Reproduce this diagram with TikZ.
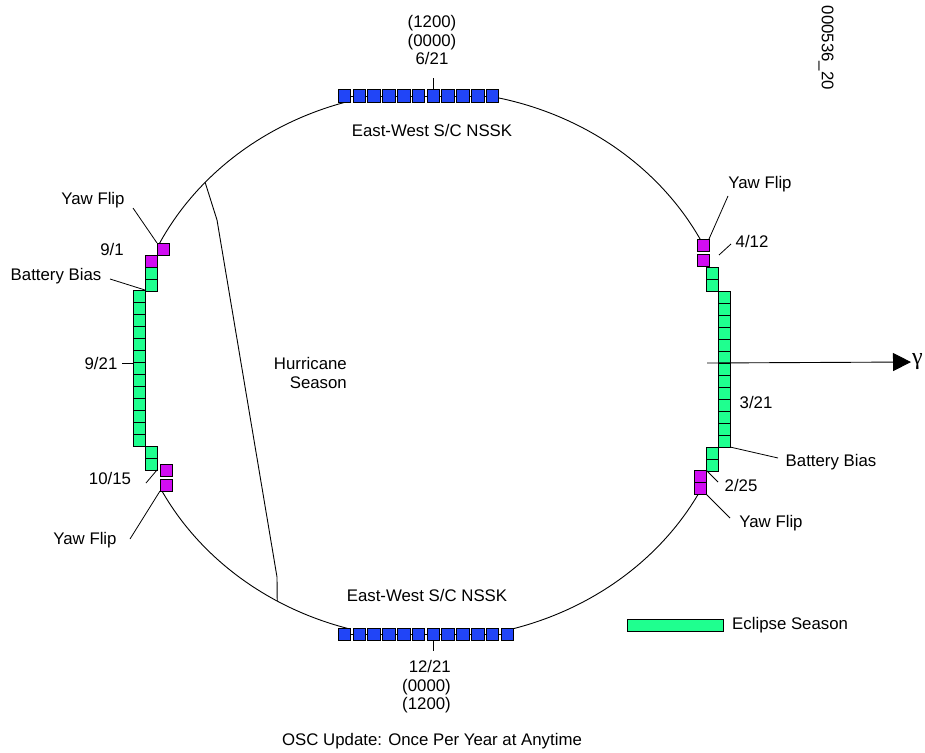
\documentclass[tikz,border=0pt]{standalone}
\usepackage{fontspec}
\setmainfont{Liberation Sans}
\newfontfamily\greekfont{Liberation Serif}
\usetikzlibrary{arrows.meta,calc}
\definecolor{orbitblue}{rgb}{0.13,0.27,0.97}
\definecolor{eclipsegreen}{rgb}{0.12,1.0,0.56}
\definecolor{yawmagenta}{rgb}{0.82,0.05,0.95}
\tikzset{
  sq/.style={
    draw=black,
    line width=0.8pt,
    inner sep=0pt,
    outer sep=0pt,
    minimum size=12pt
  },
  nssk/.style={sq, fill=orbitblue, minimum size=12.6pt},
  eclipse/.style={sq, fill=eclipsegreen},
  yaw/.style={sq, fill=yawmagenta},
  lbl/.style={inner sep=1pt, font=\fontsize{16.8}{18.5}\selectfont},
  orbit/.style={line width=0.9pt},
  leader/.style={line width=0.8pt}
}

\begin{document}
\begin{tikzpicture}[x=1pt, y=-1pt]
\useasboundingbox (0,0) rectangle (925,752);
% orbit arcs
\draw[orbit] plot[domain=106:154, samples=60] ({431+303*cos(\x)},{365-274*sin(\x)});
\draw[orbit] plot[domain=27:78, samples=60] ({431+303*cos(\x)},{365-274*sin(\x)});
\draw[orbit] plot[domain=207:254, samples=60] ({431+303*cos(\x)},{365-274*sin(\x)});
\draw[orbit] plot[domain=285:332, samples=60] ({431+303*cos(\x)},{365-274*sin(\x)});
% hurricane season boundary
\coordinate (hurA) at ({431+303*cos(138.2)},{365-274*sin(138.2)});
\coordinate (hurB) at ({431+303*cos(239.5)},{365-274*sin(239.5)});
\draw[orbit] (hurA) -- (217,220) -- (277,577) -- (hurB);
% NSSK squares
\foreach \i in {1,...,11}
  \node[nssk] (t\i) at ({344.4+14.8*(\i-1)},96) {};
\foreach \i in {1,...,12}
  \node[nssk] (b\i) at ({344.4+14.8*(\i-1)},634.5) {};
\foreach \i in {1,...,10}{
  \pgfmathtruncatemacro\j{\i+1}
  \draw[orbit] (t\i) -- (t\j);
}
\foreach \i in {1,...,11}{
  \pgfmathtruncatemacro\j{\i+1}
  \draw[orbit] (b\i) -- (b\j);
}
% left eclipse season
\node[yaw] (lm1) at (163,249) {};
\node[yaw] (lm2) at (151,261) {};
\node[eclipse] (lg1) at (151,273) {};
\node[eclipse] (lg2) at (151,285) {};
\foreach \i in {1,...,13}
  \node[eclipse] (lc\i) at (139,{284+12*\i}) {};
\node[eclipse] (lg3) at (151,452) {};
\node[eclipse] (lg4) at (151,464) {};
\node[yaw] (lm3) at (166,470) {};
\node[yaw] (lm4) at (166,485) {};
% right eclipse season
\node[yaw] (rm1) at (703,245) {};
\node[yaw] (rm2) at (703,260.5) {};
\node[eclipse] (rg1) at (712,273) {};
\node[eclipse] (rg2) at (712,285) {};
\foreach \i in {1,...,13}
  \node[eclipse] (rc\i) at (724,{285+12*\i}) {};
\node[eclipse] (rg3) at (712,453) {};
\node[eclipse] (rg4) at (712,465) {};
\node[yaw] (rm3) at (700,476) {};
\node[yaw] (rm4) at (700,488) {};
% solstice labels
\node[lbl, align=center] (topdate) at (432,40) {(1200)\\(0000)\\6/21};
\coordinate (toptick) at ($(t7.north)+(0,-12)$);
\draw[leader] (t7.north) -- (toptick);
\node[lbl] (ewtop) at (432,130) {East-West S/C NSSK};
\node[lbl] (ewbot) at (427,595) {East-West S/C NSSK};
\node[lbl, align=right, anchor=east] (botdate) at (452,687) {12/21\\(0000)\\(1200)};
\coordinate (bottick) at ($(b7.south)+(0,10)$);
\draw[leader] (b7.south) -- (bottick);
\node[lbl, align=right, anchor=east] (hurricane) at (348,373) {Hurricane\\Season};
\node[lbl] (osc) at (432,741) {OSC Update: Once Per Year at Anytime};
% left labels
\node[lbl] (yawTL) at (93,200) {Yaw Flip};
\node[lbl] (d91) at (112,249) {9/1};
\node[lbl] (battL) at (56,276) {Battery Bias};
\node[lbl] (d921) at (101,363) {9/21};
\node[lbl] (d1015) at (110,478) {10/15};
\node[lbl] (yawBL) at (85,540) {Yaw Flip};
\coordinate (cyawTL) at (133,208);
\coordinate (cbattL) at (110,279);
\coordinate (c921) at (122,363);
\coordinate (c1015) at (146,483);
\coordinate (cyawBL) at (130,539);
\draw[leader] (cyawTL) -- (lm1.north west);
\draw[leader] (cbattL) -- (lc1.north east);
\draw[leader] (c921) -- (c921 -| lc1.west);
\draw[leader] (c1015) -- (lg4.south east);
\draw[leader] (cyawBL) -- (lm4.south west);
% right labels
\node[lbl] (yawTR) at (760,184) {Yaw Flip};
\node[lbl] (d412) at (752,241) {4/12};
\node[lbl] (d321) at (756,402) {3/21};
\node[lbl] (battR) at (831,462) {Battery Bias};
\node[lbl] (d225) at (741,485) {2/25};
\node[lbl] (yawBR) at (771,523) {Yaw Flip};
\coordinate (cyawTR) at (728,196);
\coordinate (c412a) at (731,244);
\coordinate (c412b) at (719,255);
\coordinate (cbattR) at (778,458);
\coordinate (c225) at (718,482);
\coordinate (cyawBR) at (730,518);
\draw[leader] (cyawTR) -- (rm1.north east);
\draw[leader] (c412a) -- (c412b);
\draw[leader] (rc13.south east) -- (cbattR);
\draw[leader] (rm3.north east) -- (c225);
\draw[leader] (rm4.south east) -- (cyawBR);
% vernal equinox direction
\coordinate (gstart) at (707,363);
\node[anchor=west, inner sep=1pt, font=\fontsize{24}{26}\greekfont] (gamma) at (911,362) {γ};
\draw[orbit, -{Triangle[length=18pt, width=18pt]}] (gstart) -- (gamma.west);
% legend
\node[eclipse, minimum width=96pt, minimum height=12pt] (legend) at (675,625) {};
\node[lbl, anchor=west] (legendtxt) at (731,625) {Eclipse Season};
\node[lbl, rotate=-90] (figid) at (826,48) {000536\_20};
\end{tikzpicture}
\end{document}
